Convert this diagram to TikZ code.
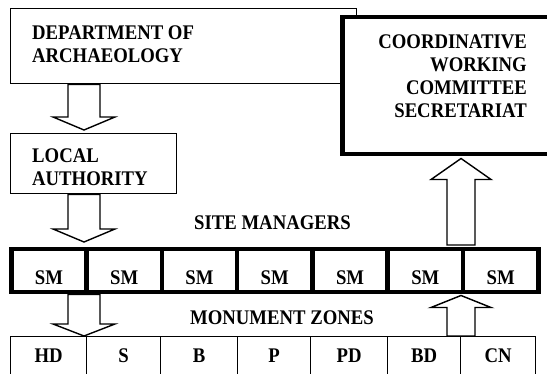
\documentclass[tikz,border=0pt]{standalone}
\usepackage{fontspec}
\setmainfont{Liberation Serif}[FakeStretch=0.9]
\usetikzlibrary{calc}
\newcommand\blkdown[5]{%
  \draw[blockarrow] let \p1=(#1), \p2=(#2) in
    (\x1-#3,\y1) -- (\x1-#3,\y2+#5) -- (\x1-#4,\y2+#5) -- (\x1,\y2)
    -- (\x1+#4,\y2+#5) -- (\x1+#3,\y2+#5) -- (\x1+#3,\y1) -- cycle;}
\newcommand\blkup[5]{%
  \draw[blockarrow] let \p1=(#1), \p2=(#2) in
    (\x1-#3,\y1) -- (\x1-#3,\y2-#5) -- (\x1-#4,\y2-#5) -- (\x1,\y2)
    -- (\x1+#4,\y2-#5) -- (\x1+#3,\y2-#5) -- (\x1+#3,\y1) -- cycle;}
\begin{document}
\begin{tikzpicture}[x=1pt,y=-1pt,
  thinbox/.style={draw, line width=1.4pt, fill=white, inner sep=0pt},
  thickbox/.style={draw, line width=4.5pt, fill=white, inner sep=0pt},
  smcell/.style={thickbox, anchor=north west, minimum width=75.29pt, minimum height=43pt},
  zcell/.style={thinbox, anchor=north west, minimum height=60pt},
  lbl/.style={font=\fontsize{20.8}{23}\selectfont\bfseries, inner sep=0pt},
  blockarrow/.style={draw, line width=1.4pt, fill=white, line join=miter}]
\useasboundingbox (0,0) rectangle (547,374);
\fill[white] (0,0) rectangle (547,374);
\begin{scope}
\clip (0,0) rectangle (547,374);
% boxes
\node[thinbox, anchor=north west, minimum width=346pt, minimum height=75pt] (dept) at (10,8) {};
\node[thickbox, anchor=north west, minimum width=240pt, minimum height=137pt] (cwc) at (340,15) {};
\node[thinbox, anchor=north west, minimum width=166pt, minimum height=60pt] (local) at (10,133) {};
% site manager cells
\foreach \i in {1,...,7} {
  \node[smcell] (sm\i) at ({9+75.29*(\i-1)},247) {};
}
% monument zone cells
\node[zcell, minimum width=76pt] (z1) at (10,336) {};
\node[zcell, minimum width=74pt] (z2) at (86,336) {};
\node[zcell, minimum width=77pt] (z3) at (160,336) {};
\node[zcell, minimum width=73pt] (z4) at (237,336) {};
\node[zcell, minimum width=77pt] (z5) at (310,336) {};
\node[zcell, minimum width=73pt] (z6) at (387,336) {};
\node[zcell, minimum width=75pt] (z7) at (460,336) {};
% texts
\node[lbl, anchor=base west] (d1) at (32,40) {DEPARTMENT OF};
\node[lbl, anchor=base west] (d2) at (32,62.5) {ARCHAEOLOGY};
\node[lbl, anchor=base west] (l1) at (32,163) {LOCAL};
\node[lbl, anchor=base west] (l2) at (32,186) {AUTHORITY};
\node[lbl, anchor=base east] (c1) at (527,49) {COORDINATIVE};
\node[lbl, anchor=base east] (c2) at (527,72) {WORKING};
\node[lbl, anchor=base east] (c3) at (527,94.5) {COMMITTEE};
\node[lbl, anchor=base east] (c4) at (527,118) {SECRETARIAT};
\node[lbl, anchor=base] (smt) at (272.5,230) {SITE MANAGERS};
\node[lbl, anchor=base] (mzt) at (282,325) {MONUMENT ZONES};
\foreach \i in {1,...,7} {
  \node[lbl, anchor=base] (smt\i) at ($(sm\i.south)+(0,-10)$) {SM};
}
\foreach \i/\t in {1/HD,2/S,3/B,4/P,5/PD,6/BD,7/CN} {
  \node[lbl, anchor=base] (zt\i) at ($(z\i.north)+(0,27)$) {\t};
}
% arrows
\coordinate (a1s) at ($(dept.south west)+(74,0)$);
\coordinate (a1e) at ($(local.north west)+(74,-3)$);
\coordinate (a2s) at ($(local.south west)+(74,0)$);
\coordinate (a2e) at ($(sm1.north west)+(75,-5)$);
\coordinate (a3s) at ($(sm1.south west)+(75,0)$);
\coordinate (a3e) at ($(z1.north west)+(74,0)$);
\coordinate (a4s) at ($(z7.north west)+(1,0)$);
\coordinate (a4e) at ($(sm7.south west)+(0.3,1)$);
\coordinate (a5s) at ($(sm7.north west)+(0.3,-2)$);
\coordinate (a5e) at ($(cwc.south west)+(121,2)$);
\blkdown{a1s}{a1e}{16pt}{31pt}{13pt}
\blkdown{a2s}{a2e}{16pt}{31pt}{13pt}
\blkdown{a3s}{a3e}{16pt}{31pt}{12pt}
\blkup{a4s}{a4e}{14pt}{30pt}{12pt}
\blkup{a5s}{a5e}{14pt}{30pt}{21pt}
\end{scope}
\end{tikzpicture}
\end{document}
